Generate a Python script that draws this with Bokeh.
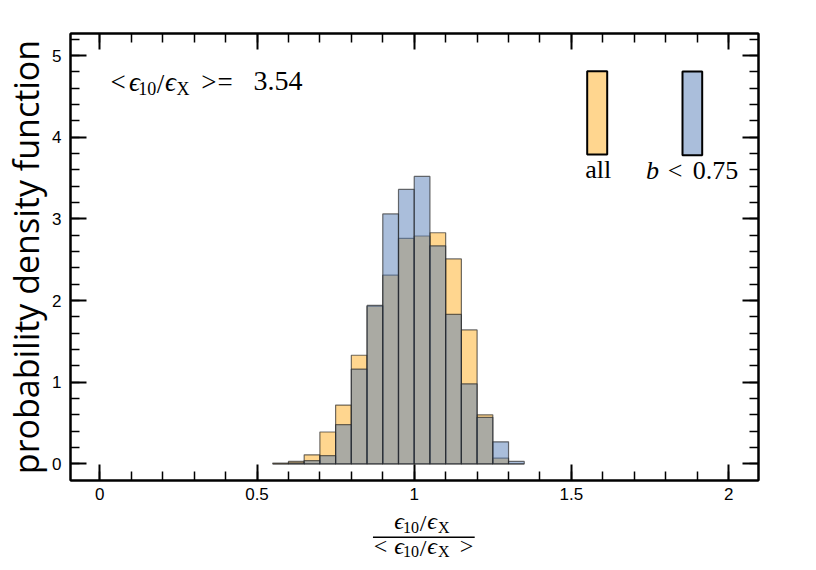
from bokeh.plotting import figure
from bokeh.models import Range1d, FixedTicker, LinearAxis, Label, BoxAnnotation
from bokeh.layouts import column
from bokeh.embed import file_html
from bokeh.resources import INLINE
import numpy as np

# ---------------- data ----------------
bin_edges = [0.55, 0.60, 0.65, 0.70, 0.75, 0.80, 0.85, 0.90, 0.95,
             1.00, 1.05, 1.10, 1.15, 1.20, 1.25, 1.30, 1.35]
all_density = [0.01, 0.03, 0.11, 0.39, 0.72, 1.33, 1.93, 2.31,
               2.76, 2.79, 2.83, 2.51, 1.64, 0.60, 0.07, 0.00]
b_density = [0.00, 0.012, 0.04, 0.10, 0.48, 1.16, 1.94, 3.06,
             3.36, 3.52, 2.67, 1.83, 0.98, 0.57, 0.27, 0.03]
x_ticks = [0, 0.5, 1, 1.5, 2]
x_tick_labels = ["0", "0.5", "1", "1.5", "2"]
y_ticks = [0, 1, 2, 3, 4, 5]
y_tick_labels = ["0", "1", "2", "3", "4", "5"]
series_labels = ["all", "0.75"]
mean_value = "3.54"

# ---------------- geometry / style ----------------
W, H1, H2 = 800, 507, 55
BL, BR, BT, BB = 70, 42, 33, 27
FW, FH = W - BL - BR, H1 - BT - BB
X0, X1 = -0.0932, 2.095
Y0, Y1 = -0.204, 5.27

ORANGE = "#FFAD1F"
BLUE = "#557DB7"
SERIF = "Liberation Serif"
MAIN, SUB = 27, 18
BASE_FIX = 0.37  # empirical shift of the alphabetic baseline (in em)


def dx(px):  # page pixel -> data x
    return X0 + (px - BL) / FW * (X1 - X0)


def dy(py):  # page pixel -> data y
    return Y1 - (py - BT) / FH * (Y1 - Y0)


p = figure(width=W, height=H1, output_backend="svg", toolbar_location=None,
           x_range=Range1d(X0, X1), y_range=Range1d(Y0, Y1),
           min_border_left=BL, min_border_right=BR,
           min_border_top=BT, min_border_bottom=BB)
p.grid.visible = False
p.background_fill_color = "white"
p.border_fill_color = "white"
p.outline_line_color = "black"
p.outline_line_width = 2

lefts = np.array(bin_edges[:-1])
rights = np.array(bin_edges[1:])

p.quad(left=lefts, right=rights, bottom=0, top=all_density,
       fill_color=ORANGE, fill_alpha=0.5,
       line_color="#222222", line_alpha=0.65, line_width=1.2)
p.quad(left=lefts, right=rights, bottom=0, top=b_density,
       fill_color=BLUE, fill_alpha=0.5,
       line_color="#222222", line_alpha=0.65, line_width=1.2)

x_minor = list(np.round(np.arange(0, 2.0001, 0.1), 3))
y_minor = list(np.round(np.arange(0, 5.2001, 0.2), 3))


def style_axis(ax, show_labels):
    ax.axis_line_color = "black"
    ax.axis_line_width = 2
    ax.major_tick_line_color = "black"
    ax.major_tick_line_width = 2
    ax.minor_tick_line_color = "black"
    ax.minor_tick_line_width = 1.5
    ax.major_tick_in = 16
    ax.major_tick_out = 0
    ax.minor_tick_in = 9
    ax.minor_tick_out = 0
    ax.major_label_text_font = "Liberation Sans"
    ax.major_label_text_font_size = "17px"
    if show_labels:
        ax.major_label_text_color = "black"
    else:
        ax.major_label_text_color = None
        ax.major_label_standoff = 0


xa = p.xaxis[0]
xa.ticker = FixedTicker(ticks=x_ticks, minor_ticks=x_minor)
xa.major_label_overrides = dict(zip(x_ticks, x_tick_labels))
xa.major_label_standoff = 7
style_axis(xa, True)

ya = p.yaxis[0]
ya.ticker = FixedTicker(ticks=y_ticks, minor_ticks=y_minor)
ya.major_label_overrides = dict(zip(y_ticks, y_tick_labels))
ya.major_label_standoff = 9
ya.axis_label = "probability density function"
ya.axis_label_text_font = "Open Sans"
ya.axis_label_text_font_size = "34px"
ya.axis_label_text_font_style = "normal"
ya.axis_label_text_color = "black"
ya.axis_label_standoff = 0
style_axis(ya, True)

top_ax = LinearAxis(ticker=FixedTicker(ticks=x_ticks, minor_ticks=x_minor))
style_axis(top_ax, False)
p.add_layout(top_ax, "above")
right_ax = LinearAxis(ticker=FixedTicker(ticks=y_ticks, minor_ticks=y_minor))
style_axis(right_ax, False)
p.add_layout(right_ax, "right")


def txt(fig, fx, fy, s, cx, base, size=MAIN, style="normal"):
    fig.add_layout(Label(x=fx(cx), y=fy(base - BASE_FIX * size), text=s,
                         text_font=SERIF,
                         text_font_size=f"{size}px", text_font_style=style,
                         text_align="center", text_baseline="alphabetic",
                         text_color="black"))


def ratio(fig, fx, fy, xs, base, sub_base, size=MAIN, sub=SUB):
    # xs: centres of  eps, 10, /, eps, X
    txt(fig, fx, fy, "\u03f5", xs[0], base, size=size, style="italic")
    txt(fig, fx, fy, "10", xs[1], sub_base, size=sub)
    txt(fig, fx, fy, "/", xs[2], base + 2, size=size)
    txt(fig, fx, fy, "\u03f5", xs[3], base, size=size, style="italic")
    txt(fig, fx, fy, "X", xs[4], sub_base, size=sub)


# mean annotation
txt(p, dx, dy, "<", 117.5, 91)
ratio(p, dx, dy, [134, 146.7, 160, 170, 182.5], 91, 95)
txt(p, dx, dy, ">", 208.3, 91)
txt(p, dx, dy, "=", 224.5, 91)
txt(p, dx, dy, mean_value, 277.5, 91, size=28)

# legend swatches
p.add_layout(BoxAnnotation(left=dx(586.7), right=dx(606.7), top=dy(70.7), bottom=dy(154),
                           fill_color="#FFD68F", fill_alpha=1,
                           line_color="black", line_alpha=1, line_width=2))
p.add_layout(BoxAnnotation(left=dx(682), right=dx(701.7), top=dy(71), bottom=dy(154.7),
                           fill_color="#AABEDB", fill_alpha=1,
                           line_color="black", line_alpha=1, line_width=2))
txt(p, dx, dy, series_labels[0], 597.7, 178.3, size=26)
txt(p, dx, dy, "b", 652, 180, size=26, style="italic")
txt(p, dx, dy, "<", 674.5, 180, size=26)
txt(p, dx, dy, series_labels[1], 715, 180, size=26)

# ---------------- x axis title (fraction) in a strip below ----------------
q = figure(width=W, height=H2, output_backend="svg", toolbar_location=None,
           x_range=Range1d(0, W), y_range=Range1d(H1 + H2, H1),
           x_axis_type=None, y_axis_type=None, min_border=0)
q.grid.visible = False
q.outline_line_color = None
q.background_fill_color = "white"
q.border_fill_color = "white"


def qx(px):
    return px


def qy(py):
    return py


FRAC, FSUB = 24, 16
ratio(q, qx, qy, [382, 396, 410, 420.5, 434], 529.3, 532.7, FRAC, FSUB)
q.add_layout(BoxAnnotation(left=351.7, right=470, top=536, bottom=537.5,
                           fill_color="black", fill_alpha=1, line_color=None))
txt(q, qx, qy, "<", 360.5, 554, size=FRAC)
ratio(q, qx, qy, [382, 396, 410, 420.5, 434], 554, 557, FRAC, FSUB)
txt(q, qx, qy, ">", 460.5, 554, size=FRAC)

layout = column(p, q, spacing=0)
open("out.html", "w").write(file_html(layout, INLINE))
